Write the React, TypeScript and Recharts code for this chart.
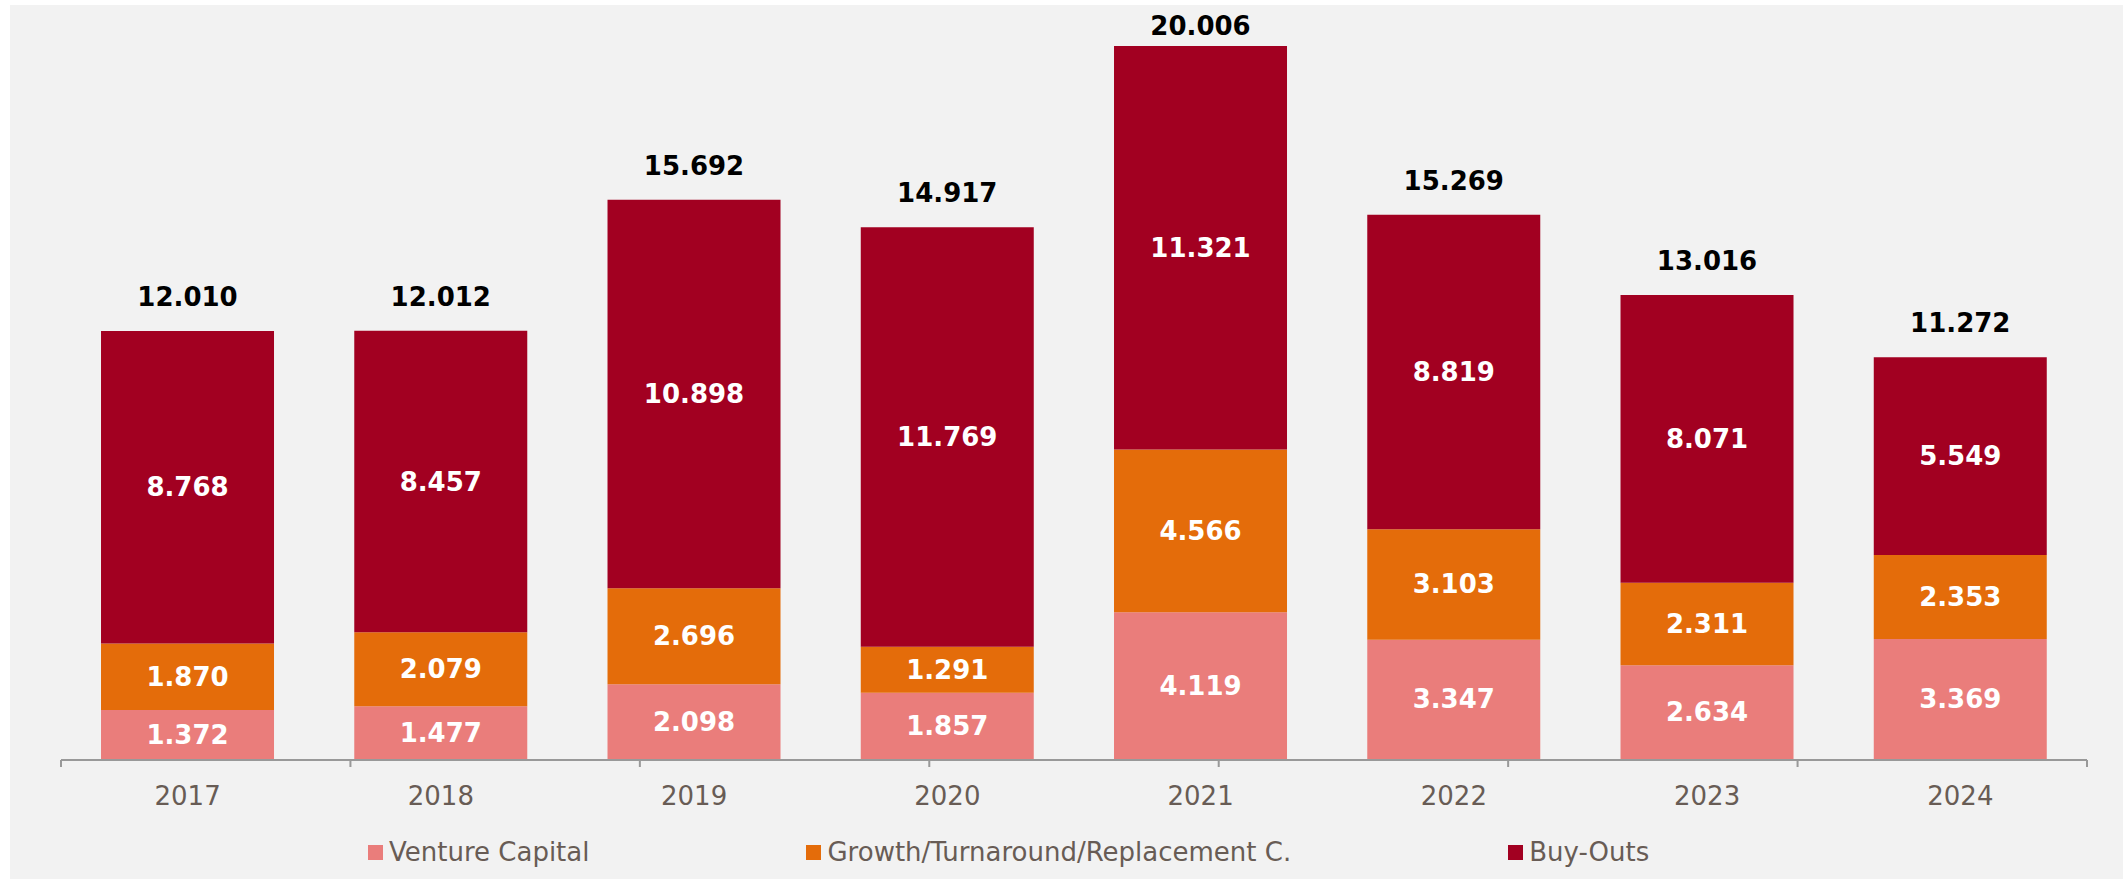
import React from 'react';
import { BarChart, Bar, XAxis, YAxis, LabelList, Legend } from 'recharts';

const years = ['2017', '2018', '2019', '2020', '2021', '2022', '2023', '2024'];
const ventureCapital = [1.372, 1.477, 2.098, 1.857, 4.119, 3.347, 2.634, 3.369];
const growth = [1.870, 2.079, 2.696, 1.291, 4.566, 3.103, 2.311, 2.353];
const buyOuts = [8.768, 8.457, 10.898, 11.769, 11.321, 8.819, 8.071, 5.549];
const totals = [12.010, 12.012, 15.692, 14.917, 20.006, 15.269, 13.016, 11.272];

const seriesNames = ['Venture Capital', 'Growth/Turnaround/Replacement C.', 'Buy-Outs'];
const seriesKeys = ['vc', 'growth', 'buyouts'];
const seriesColors = ['#EA7D7B', '#E46C0A', '#A20021'];

const data = years.map((year, i) => ({
  year,
  vc: ventureCapital[i],
  growth: growth[i],
  buyouts: buyOuts[i],
  total: totals[i],
}));

const edgeTicks = [...years.map((_, i) => i), years.length];

const FONT = '"DejaVu Sans", Verdana, sans-serif';
const TEXT_COLOR = '#685C55';
const AXIS_COLOR = '#999999';

const fmt = (v: number) => v.toFixed(3);

const InsideLabel = (props: any) => {
  const { x, y, width, height, value } = props;
  return (
    <text
      x={x + width / 2}
      y={y + height / 2}
      textAnchor="middle"
      dominantBaseline="central"
      fill="#FFFFFF"
      fontFamily={FONT}
      fontWeight="bold"
      fontSize={26}
    >
      {fmt(Number(value))}
    </text>
  );
};

const TotalLabel = (props: any) => {
  const { x, y, width, index } = props;
  const cy = Math.max(y - 34, 26);
  return (
    <text
      x={x + width / 2}
      y={cy}
      textAnchor="middle"
      dominantBaseline="central"
      fill="#000000"
      fontFamily={FONT}
      fontWeight="bold"
      fontSize={26}
    >
      {fmt(totals[index])}
    </text>
  );
};

const YearTick = (props: any) => {
  const { x, y, payload } = props;
  return (
    <text
      x={x}
      y={y + 46}
      textAnchor="middle"
      fill={TEXT_COLOR}
      fontFamily={FONT}
      fontSize={26}
    >
      {payload.value}
    </text>
  );
};

const EmptyTick = () => <g />;

const LegendContent = () => (
  <div
    style={{
      display: 'flex',
      flexDirection: 'row',
      alignItems: 'center',
      gap: 217,
      fontFamily: FONT,
      fontSize: 26,
      color: TEXT_COLOR,
      whiteSpace: 'nowrap',
      height: 30,
    }}
  >
    {seriesNames.map((name, i) => (
      <div key={name} style={{ display: 'flex', alignItems: 'center' }}>
        <span
          style={{
            display: 'inline-block',
            width: 15,
            height: 15,
            background: seriesColors[i],
            marginRight: 6,
          }}
        />
        <span style={{ lineHeight: '30px' }}>{name}</span>
      </div>
    ))}
  </div>
);

export default function App() {
  return (
    <div
      style={{
        position: 'fixed',
        top: 0,
        left: 0,
        width: 2123,
        height: 879,
        background: '#FFFFFF',
        overflow: 'hidden',
      }}
    >
      <div
        style={{
          position: 'absolute',
          left: 10,
          top: 5,
          right: 0,
          bottom: 0,
          background: '#F2F2F2',
        }}
      />
      <div style={{ position: 'absolute', left: 0, top: 0 }}>
        <BarChart
          width={2123}
          height={879}
          data={data}
          margin={{ top: 46, right: 36, bottom: 118, left: 61 }}
          barCategoryGap="15.8%"
        >
          <XAxis
            xAxisId="edge"
            type="number"
            domain={[0, years.length]}
            ticks={edgeTicks}
            interval={0}
            height={1}
            tick={EmptyTick}
            tickSize={7}
            axisLine={{ stroke: AXIS_COLOR, strokeWidth: 2 }}
            tickLine={{ stroke: AXIS_COLOR, strokeWidth: 2 }}
          />
          <XAxis
            xAxisId="cat"
            dataKey="year"
            height={1}
            axisLine={false}
            tickLine={false}
            tickSize={0}
            tickMargin={0}
            interval={0}
            tick={<YearTick />}
          />
          <YAxis hide domain={[0, 'dataMax']} />
          <Legend
            content={<LegendContent />}
            wrapperStyle={{ position: 'absolute', left: 368, top: 837, width: 1600, height: 0 }}
          />
          {seriesKeys.map((key, i) => (
            <Bar
              key={key}
              dataKey={key}
              name={seriesNames[i]}
              stackId="a"
              xAxisId="cat"
              fill={seriesColors[i]}
              isAnimationActive={false}
            >
              <LabelList dataKey={key} content={<InsideLabel />} />
              {i === seriesKeys.length - 1 && (
                <LabelList dataKey="total" content={<TotalLabel />} />
              )}
            </Bar>
          ))}
        </BarChart>
      </div>
    </div>
  );
}
